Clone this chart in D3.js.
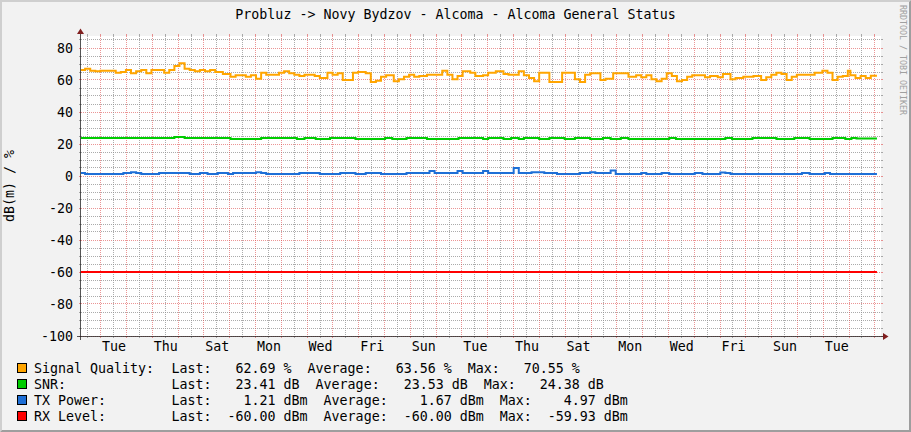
<!DOCTYPE html>
<html><head><meta charset="utf-8">
<script src="https://cdn.jsdelivr.net/npm/d3@7"></script>
<style>
html,body{margin:0;padding:0;background:#F2F2F2;}
svg{display:block;}
text{font-family:"DejaVu Sans Mono",monospace;fill:#000;white-space:pre;}
</style></head><body>
<svg id="c" width="911" height="432"></svg>
<script>
// ---------- data ----------
const title = "Probluz -> Novy Bydzov - Alcoma - Alcoma General Status";
const yLabel = "dB(m) / %";
const watermark = "RRDTOOL / TOBI OETIKER";
const yTicks = [80, 60, 40, 20, 0, -20, -40, -60, -80, -100];
const yMin = -100, yMax = 87.5;
const spanDays = 31;          // graph width in days
const firstMidnight = 0.763;  // day offset of first midnight (a Tuesday)
const dataEnd = 30.843;       // last sample (days)
const xLabels = ["Tue","Thu","Sat","Mon","Wed","Fri","Sun","Tue","Thu","Sat","Mon","Wed","Fri","Sun","Tue"];

// Signal Quality (%) change points
const sqDays = [0,0.159,0.357,0.554,0.752,1.345,1.543,1.74,1.938,2.136,2.334,2.531,2.729,3.223,3.421,3.619,3.816,4.014,4.212,4.41,4.607,4.805,5.003,5.2,5.497,5.793,5.991,6.387,6.584,6.782,6.98,7.177,7.672,7.87,8.067,8.265,8.463,8.66,9.056,9.253,9.55,9.748,9.945,10.143,10.538,10.736,11.033,11.23,11.428,11.626,11.824,12.12,12.318,12.515,12.713,12.911,13.108,13.405,13.998,14.196,14.394,14.591,14.789,15.085,15.283,15.58,15.777,16.074,16.371,16.568,16.964,17.161,17.359,17.557,17.754,18.15,18.644,19.139,19.336,19.534,19.732,20.127,20.325,20.621,21.214,21.511,21.709,21.906,22.104,22.302,22.499,22.697,22.895,23.092,23.29,23.488,23.685,24.18,24.377,24.674,24.872,25.168,25.366,25.663,26.058,26.355,26.552,26.75,26.948,27.145,27.343,27.541,27.738,28.43,28.727,28.925,29.122,29.32,29.518,29.715,29.814,30.012,30.21,30.407,30.605];
const sqVals = [66.2,67.1,65.8,65.4,65.8,64.6,65.0,66.2,64.2,65.4,66.2,64.2,66.2,64.6,66.2,68.75,70.5,67.1,66.2,65.4,66.2,65.4,66.2,65.0,63.75,62.1,62.9,62.1,62.9,60.8,64.6,63.3,64.6,65.4,64.2,63.3,62.5,63.3,62.5,61.25,64.6,63.3,64.2,60.0,64.6,65.0,64.2,58.75,59.6,62.1,62.9,59.2,60.4,62.1,63.3,62.1,62.5,63.3,65.8,63.3,60.4,62.5,65.4,64.6,62.5,62.9,64.6,65.4,63.75,63.3,65.4,62.9,61.25,59.2,64.6,58.75,64.6,60.4,58.75,63.3,64.2,60.0,60.8,64.2,62.1,62.9,61.7,62.9,60.4,59.2,60.8,64.2,62.5,59.2,60.0,62.1,62.9,61.7,62.5,61.7,63.75,60.4,61.25,62.1,62.5,60.0,61.7,63.3,64.6,63.75,60.0,62.1,63.3,64.6,65.8,64.6,60.0,62.1,62.5,65.8,62.9,61.25,62.5,61.25,62.69];

// SNR (dB) change points
const snrDays = [0,3.619,4.014,5.793,6.98,8.364,8.66,9.095,9.649,10.637,11.784,12.061,12.614,13.405,14.63,15.58,15.777,16.371,16.667,16.964,17.161,17.754,18.15,18.743,19.139,19.732,20.226,20.523,20.918,21.214,22.796,23.053,24.97,25.228,26.019,26.948,27.64,28.233,29.122,29.617,29.854,30.052];
const snrVals = [23.8,24.38,23.8,23.1,23.8,23.1,23.8,23.1,23.8,23.1,23.8,23.1,23.8,23.1,23.8,23.1,23.8,23.1,23.8,23.1,23.8,23.1,23.8,23.1,23.8,23.1,23.8,23.1,23.8,23.1,23.8,23.1,23.8,23.1,23.8,23.1,23.8,23.1,23.8,23.1,23.8,23.41];

// TX Power (dBm) change points
const txDays = [0,0.159,1.642,1.938,2.136,2.334,3.026,4.212,4.607,4.904,5.3,5.695,5.892,6.782,6.98,7.177,8.463,9.253,10.044,10.637,11.033,11.626,12.614,13.504,13.702,14.591,14.789,15.58,15.777,16.766,16.964,17.458,17.952,18.446,19.336,19.732,19.93,20.523,20.72,21.709,21.906,22.499,22.796,23.784,24.081,24.773,24.97,25.168,27.936,28.233,28.826,29.024];
const txVals = [1.8,1.25,1.8,2.4,1.8,1.25,1.8,1.25,1.8,1.25,1.8,1.25,1.8,2.4,1.8,1.25,1.8,1.25,1.8,1.25,1.8,1.25,1.8,3.2,1.8,3.2,1.8,3.2,1.8,4.97,1.8,2.4,1.8,1.25,1.8,2.4,1.8,3.5,1.25,1.8,1.25,1.8,1.25,1.8,1.25,2.2,1.8,1.25,1.8,1.25,1.8,1.21];

// RX Level (dBm) change points
const rxDays = [0];
const rxVals = [-60.0];

const seriesNames  = ["Signal Quality:", "SNR:", "TX Power:", "RX Level:"];
const seriesUnits  = ["%", "dB", "dBm", "dBm"];
const seriesColors = ["#FFA500", "#00CC00", "#1F6FD6", "#FF0000"];
const lastVals = [62.69, 23.41, 1.21, -60.00];
const avgVals  = [63.56, 23.53, 1.67, -60.00];
const maxVals  = [70.55, 24.38, 4.97, -59.93];

// ---------- drawing ----------
const W = 911, H = 432;
const X0 = 81, XS = 800, Y0 = 336, YS = 300;
const svg = d3.select("#c");
const loc = d3.formatLocale({decimal: ".", thousands: ",", grouping: [3], currency: ["", ""], minus: "-"});
const f2 = loc.format(".2f");
const fi = loc.format("d");

const x = d3.scaleLinear().domain([0, spanDays]).range([X0, X0 + XS]);
const y = d3.scaleLinear().domain([yMin, yMax]).range([Y0, Y0 - YS]);
const snap = v => Math.floor(v) + 0.5;

// background + bevel
svg.append("rect").attr("width", W).attr("height", H).attr("fill", "#F2F2F2");
svg.append("path").attr("d", `M0,${H} L2,${H-2} L2,2 L${W-2},2 L${W},0 L0,0 Z`).attr("fill", "#CFCFCF");
svg.append("path").attr("d", `M2,${H-2} L${W-2},${H-2} L${W-2},2 L${W},0 L${W},${H} L0,${H} Z`).attr("fill", "#9E9E9E");

// canvas
svg.append("rect").attr("x", X0).attr("y", Y0 - YS).attr("width", XS).attr("height", YS).attr("fill", "#FFFFFF");

const gridMinor = "rgba(143,143,143,0.75)";
const gridMajor = "rgba(222,79,79,0.6)";
const g = svg.append("g");

// horizontal grid
const minorY = d3.range(yMin, yMax + 0.001, 5);
minorY.forEach(v => {
  const major = yTicks.includes(v);
  const yy = snap(y(v));
  const col = major ? gridMajor : gridMinor;
  g.append("line").attr("x1", X0 - 2).attr("x2", X0).attr("y1", yy).attr("y2", yy).attr("stroke", col);
  g.append("line").attr("x1", X0 + XS).attr("x2", X0 + XS + 2).attr("y1", yy).attr("y2", yy).attr("stroke", col);
  g.append("line").attr("x1", X0).attr("x2", X0 + XS).attr("y1", yy).attr("y2", yy)
    .attr("stroke", col).attr("stroke-dasharray", "1,1");
});

// vertical grid (12h minor, 24h major)
const vLines = d3.range(firstMidnight - 1, spanDays + 0.001, 0.5).filter(d => d > 0 && d <= spanDays);
vLines.forEach(d => {
  const major = Math.abs(((d - firstMidnight) % 1 + 1) % 1) < 0.01;
  const xx = snap(x(d));
  const col = major ? gridMajor : gridMinor;
  g.append("line").attr("x1", xx).attr("x2", xx).attr("y1", Y0).attr("y2", Y0 + 2).attr("stroke", col);
  g.append("line").attr("x1", xx).attr("x2", xx).attr("y1", Y0 - YS - 2).attr("y2", Y0 - YS).attr("stroke", col);
  g.append("line").attr("x1", xx).attr("x2", xx).attr("y1", Y0 - YS).attr("y2", Y0)
    .attr("stroke", col).attr("stroke-dasharray", "1,1");
});

// data lines
const seriesData = [[sqDays, sqVals], [snrDays, snrVals], [txDays, txVals], [rxDays, rxVals]];
const line = d3.line().x(d => x(d[0])).y(d => y(d[1])).curve(d3.curveStepAfter);
seriesData.forEach(([ds, vs], i) => {
  const pts = ds.map((d, k) => [d, vs[k]]);
  pts.push([dataEnd, vs[vs.length - 1]]);
  svg.append("path").attr("d", line(pts)).attr("fill", "none")
    .attr("stroke", seriesColors[i]).attr("stroke-width", 2);
});

// axes lines + arrows
const axisCol = "#1F1F1F", arrowCol = "#801F1F";
svg.append("line").attr("x1", X0 - 4).attr("x2", X0 + XS + 4).attr("y1", Y0 + 0.5).attr("y2", Y0 + 0.5)
  .attr("stroke", axisCol).attr("stroke-width", 1).attr("stroke-opacity", 0.75);
svg.append("line").attr("x1", X0 - 0.5).attr("x2", X0 - 0.5).attr("y1", Y0 + 4).attr("y2", Y0 - YS - 4)
  .attr("stroke", axisCol).attr("stroke-width", 1).attr("stroke-opacity", 0.75);
svg.append("path").attr("d", `M${X0+XS+2},${Y0-3} L${X0+XS+2},${Y0+4} L${X0+XS+7.5},${Y0+0.5} Z`).attr("fill", arrowCol);
svg.append("path").attr("d", `M${X0-4},${Y0-YS-2} L${X0+3},${Y0-YS-2} L${X0-0.5},${Y0-YS-7.5} Z`).attr("fill", arrowCol);

// y tick labels (d3 axis)
const yAxis = d3.axisLeft(y).tickValues(yTicks).tickFormat(d => fi(d)).tickSize(0).tickPadding(0);
const ya = svg.append("g").attr("transform", `translate(${X0 - 8},0)`).call(yAxis);
ya.select(".domain").remove();
ya.selectAll("text").attr("font-family", "DejaVu Sans Mono").attr("font-size", 13.3).attr("fill", "#000")
  .attr("dy", null).attr("y", 4.7);

// x labels at noon of every second day
const xTickDays = xLabels.map((_, i) => firstMidnight + 2 * i + 0.5);
const xAxis = d3.axisBottom(x).tickValues(xTickDays).tickFormat((d, i) => xLabels[i]).tickSize(0).tickPadding(0);
const xa = svg.append("g").attr("transform", `translate(0,${Y0})`).call(xAxis);
xa.select(".domain").remove();
xa.selectAll("text").attr("font-family", "DejaVu Sans Mono").attr("font-size", 13.3).attr("fill", "#000")
  .attr("dy", null).attr("y", 15);

// title
svg.append("text").attr("x", W / 2).attr("y", 19).attr("text-anchor", "middle")
  .attr("font-size", 13.3).text(title);

// y label
svg.append("text").attr("transform", `translate(14,${Y0 - YS / 2}) rotate(-90)`)
  .attr("text-anchor", "middle").attr("font-size", 13.3).text(yLabel);

// watermark
svg.append("text").attr("transform", `translate(899.5,5) rotate(90)`)
  .attr("font-size", 8.3).attr("fill", "#A0A0A0").style("fill", "#A0A0A0").text(watermark);

// legend
const pad = s => s.padStart(8, " ");
seriesNames.forEach((name, i) => {
  const by = 363.5 + i * 16;
  svg.append("rect").attr("x", 17.5).attr("y", by).attr("width", 9).attr("height", 9)
    .attr("fill", seriesColors[i]).attr("stroke", "#000").attr("stroke-width", 1);
  svg.append("text").attr("x", 34).attr("y", by + 9.5).attr("font-size", 13.3).text(name);
  const u = seriesUnits[i];
  const s = "Last:" + pad(f2(lastVals[i])) + " " + u + "  Average:" + pad(f2(avgVals[i])) + " " + u +
            "  Max:" + pad(f2(maxVals[i])) + " " + u;
  svg.append("text").attr("x", 171.5).attr("y", by + 9.5).attr("font-size", 13.3)
    .attr("xml:space", "preserve").text(s);
});
</script>
</body></html>
